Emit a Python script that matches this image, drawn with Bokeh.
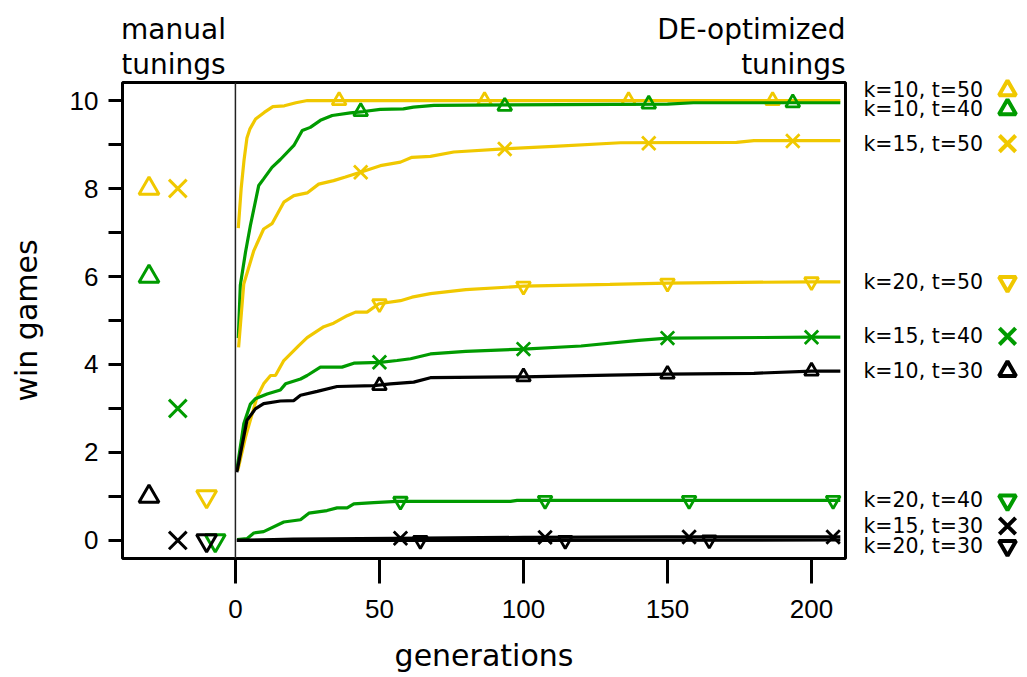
from bokeh.plotting import figure
from bokeh.models import Range1d, FixedTicker, Span, ColumnDataSource
from bokeh.layouts import row, column
from bokeh.core.properties import value
from bokeh.embed import file_html
from bokeh.resources import INLINE

YELLOW = "#F0C800"
GREEN = "#009B00"
BLACK = "#000000"

# ---------------- data ----------------
# DE-optimized tuning curves: win games per generation
k10t50_g = [1, 2, 3, 4, 5, 7, 10, 13, 17, 21, 25, 30, 210]
k10t50_v = [7.1, 8.0, 8.65, 9.15, 9.35, 9.58, 9.73, 9.86, 9.88, 9.95, 10.0, 10.0, 10.0]

k10t40_g = [1, 1.7, 3.5, 5.2, 8.1, 9.8, 12.7, 15.6, 20.3, 23.2, 26, 29.5, 33.6, 39.9, 44.5,
            50.3, 58.3, 61.8, 68.9, 150, 159, 210]
k10t40_v = [4.6, 5.8, 6.55, 7.16, 8.07, 8.22, 8.48, 8.66, 8.98, 9.32, 9.39, 9.55, 9.66, 9.72, 9.75,
            9.8, 9.81, 9.85, 9.89, 9.92, 9.95, 9.95]

k15t50_g = [1.1, 2.9, 6.4, 9.8, 12.7, 16.8, 20.3, 24.9, 28.9, 34.1, 38.2, 43.4, 50.3, 57.3, 61.3,
            67.7, 75.8, 93.2, 110.5, 133.7, 174, 180, 210]
k15t50_v = [4.39, 5.83, 6.59, 7.08, 7.2, 7.69, 7.84, 7.9, 8.1, 8.18, 8.26, 8.37, 8.52, 8.6, 8.71,
            8.73, 8.83, 8.9, 8.96, 9.04, 9.05, 9.09, 9.09]

k20t50_g = [0.8, 3.5, 7.5, 9.8, 12.2, 13.9, 16.8, 22, 24.9, 30.7, 34.1, 38.8, 41.7, 45.7, 49.8,
            57.3, 61.3, 67.7, 80, 100, 130, 150, 200, 210]
k20t50_v = [1.59, 2.35, 3.26, 3.56, 3.75, 3.75, 4.09, 4.43, 4.61, 4.86, 4.94, 5.11, 5.19, 5.19, 5.38,
            5.45, 5.53, 5.61, 5.7, 5.78, 5.82, 5.85, 5.88, 5.88]

k15t40_g = [0.5, 2.9, 5.2, 6.9, 11, 15.6, 17.4, 22.6, 24.9, 29.5, 37, 41.1, 50.3, 56.1, 60.8,
            67.7, 80, 100, 120, 140, 150, 200, 210]
k15t40_v = [1.6, 2.65, 3.1, 3.22, 3.33, 3.42, 3.56, 3.67, 3.75, 3.94, 3.94, 4.03, 4.05, 4.09, 4.13,
            4.24, 4.3, 4.35, 4.42, 4.55, 4.6, 4.62, 4.62]

k10t30_g = [0.5, 4, 6.9, 9.8, 15.6, 20.3, 22.6, 28.4, 35.3, 48, 53.8, 61.9, 67.7, 100, 130, 150,
            180, 200, 210]
k10t30_v = [1.55, 2.73, 2.99, 3.11, 3.17, 3.18, 3.3, 3.39, 3.5, 3.52, 3.56, 3.6, 3.7, 3.72, 3.76,
            3.78, 3.8, 3.85, 3.85]

k20t40_g = [0.6, 4, 6.4, 9.8, 16.8, 22.6, 25.5, 31.8, 35.3, 38.8, 41.1, 48, 56.1, 95.5, 97.8, 210]
k20t40_v = [0.02, 0.04, 0.17, 0.2, 0.42, 0.47, 0.62, 0.68, 0.74, 0.74, 0.83, 0.86, 0.89, 0.89,
            0.91, 0.91]

k15t30_g = [0.5, 20, 55, 100, 150, 210]
k15t30_v = [0.0, 0.03, 0.05, 0.07, 0.08, 0.08]

k20t30_g = [0.5, 100, 210]
k20t30_v = [0.0, 0.0, 0.01]

# markers placed along the curves
k10t50_mg = [36, 86.5, 136.5, 186.5]
k10t50_mv = [10.0, 10.0, 10.0, 10.0]
k10t40_mg = [43.5, 93.5, 143.5, 193.5]
k10t40_mv = [9.75, 9.87, 9.92, 9.95]
k15t50_mg = [43.5, 93.5, 143.5, 193.5]
k15t50_mv = [8.37, 8.9, 9.03, 9.08]
k20t50_mg = [50, 100, 150, 200]
k20t50_mv = [5.38, 5.78, 5.85, 5.88]
k15t40_mg = [50, 100, 150, 200]
k15t40_mv = [4.05, 4.35, 4.6, 4.62]
k10t30_mg = [50, 100, 150, 200]
k10t30_mv = [3.52, 3.72, 3.78, 3.85]
k20t40_mg = [57.3, 107.5, 157.5, 207.5]
k20t40_mv = [0.89, 0.91, 0.91, 0.91]
k15t30_mg = [57.3, 107.5, 157.5, 207.5]
k15t30_mv = [0.05, 0.07, 0.08, 0.08]
k20t30_mg = [64.2, 114.5, 164.5]
k20t30_mv = [0.0, 0.0, 0.01]

# manual tunings (left panel)
manual_x = [-30, -30, -20, -10, -20, -30, -7, -20, -10]
manual_y = [8, 6, 8, 1, 3, 1, 0, 0, 0]

# legend (right side)
legend_labels = ["k=10, t=50", "k=10, t=40", "k=15, t=50", "k=20, t=50", "k=15, t=40",
                 "k=10, t=30", "k=20, t=40", "k=15, t=30", "k=20, t=30"]
legend_y = [10.23, 9.80, 9.02, 5.875, 4.64, 3.85, 0.91, 0.33, -0.125]
series_colors = [YELLOW, GREEN, YELLOW, YELLOW, GREEN, BLACK, GREEN, BLACK, BLACK]
series_markers = ["triangle", "triangle", "x", "inverted_triangle", "x", "triangle",
                  "inverted_triangle", "x", "inverted_triangle"]

x_ticks = [0, 50, 100, 150, 200]
y_ticks = list(range(0, 11))
X_LO, X_HI = -39.2, 211.8
Y_LO, Y_HI = -0.41, 10.41

curves = [
    (k10t50_g, k10t50_v, k10t50_mg, k10t50_mv),
    (k10t40_g, k10t40_v, k10t40_mg, k10t40_mv),
    (k15t50_g, k15t50_v, k15t50_mg, k15t50_mv),
    (k20t50_g, k20t50_v, k20t50_mg, k20t50_mv),
    (k15t40_g, k15t40_v, k15t40_mg, k15t40_mv),
    (k10t30_g, k10t30_v, k10t30_mg, k10t30_mv),
    (k20t40_g, k20t40_v, k20t40_mg, k20t40_mv),
    (k15t30_g, k15t30_v, k15t30_mg, k15t30_mv),
    (k20t30_g, k20t30_v, k20t30_mg, k20t30_mv),
]

FONT = "DejaVu Sans"
TICKFONT = "Liberation Sans"

def marker_size(m, tri, xs):
    return xs if m == "x" else tri

# ---------------- main plot ----------------
TOP_H = 80
p = figure(width=848, height=597, x_range=Range1d(X_LO, X_HI), y_range=Range1d(Y_LO, Y_HI),
           output_backend="svg", toolbar_location=None,
           min_border_left=122, min_border_right=3, min_border_top=2, min_border_bottom=119)
p.xgrid.visible = False
p.ygrid.visible = False
p.outline_line_color = "black"
p.outline_line_width = 3
p.background_fill_color = "white"
p.border_fill_color = "white"

p.xaxis.ticker = FixedTicker(ticks=x_ticks)
p.yaxis.ticker = FixedTicker(ticks=y_ticks)
p.yaxis.major_label_overrides = {t: ("" if t % 2 else str(t)) for t in y_ticks}
for ax in (p.xaxis, p.yaxis):
    ax.axis_line_color = None
    ax.major_tick_in = 0
    ax.minor_tick_line_color = None
    ax.major_tick_line_width = 3
    ax.major_tick_line_color = "black"
    ax.major_label_text_font = TICKFONT
    ax.major_label_text_font_size = "26px"
    ax.major_label_text_color = "black"
    ax.axis_label_text_font = FONT
    ax.axis_label_text_font_size = "30px"
    ax.axis_label_text_font_style = "normal"
    ax.axis_label_text_color = "black"
p.xaxis.major_tick_out = 25
p.xaxis.major_label_standoff = 16
p.xaxis.axis_label = "generations"
p.xaxis.axis_label_standoff = 17
p.yaxis.major_tick_out = 14
p.yaxis.major_label_standoff = 10
p.yaxis.axis_label = "win games"
p.yaxis.axis_label_standoff = 23

p.add_layout(Span(location=0, dimension="height", line_color="#222222", line_width=1.5))

for (g, v, mg, mv), col, mk in zip(curves, series_colors, series_markers):
    p.line(g, v, line_color=col, line_width=3.2)
    p.scatter(mg, mv, marker=mk, size=marker_size(mk, 14, 19), fill_color=None,
              line_color=col, line_width=2.8)

msrc = ColumnDataSource(dict(x=manual_x, y=manual_y, c=series_colors, m=series_markers,
                             s=[marker_size(m, 20, 25) for m in series_markers]))
p.scatter("x", "y", source=msrc, marker="m", size="s", fill_color=None,
          line_color="c", line_width=3)

# ---------------- top captions ----------------
ptop = figure(width=848, height=TOP_H, x_range=p.x_range, y_range=Range1d(TOP_H, 0),
              output_backend="svg", toolbar_location=None, x_axis_type=None, y_axis_type=None,
              min_border_left=122, min_border_right=3, min_border_top=0, min_border_bottom=0)
ptop.outline_line_color = None
ptop.xgrid.visible = False
ptop.ygrid.visible = False
ptop.text(x=[-21.5, -21.5], y=[29, 64], text=["manual", "tunings"], text_align="center",
          text_baseline="alphabetic", text_font=value(FONT), text_font_size="28px",
          text_color="black")
ptop.text(x=[X_HI, X_HI], y=[29, 64], text=["DE-optimized", "tunings"], text_align="right",
          text_baseline="alphabetic", text_font=value(FONT), text_font_size="28px",
          text_color="black")

# ---------------- right legend ----------------
frame_top, frame_bot, total_h = 82, 558, 677
scale = (frame_bot - frame_top) / (Y_HI - Y_LO)
r_hi = Y_HI + frame_top / scale
r_lo = Y_LO - (total_h - frame_bot) / scale
pr = figure(width=179, height=total_h, x_range=Range1d(848, 1027), y_range=Range1d(r_lo, r_hi),
            output_backend="svg", toolbar_location=None, x_axis_type=None, y_axis_type=None,
            min_border_left=0, min_border_right=0, min_border_top=0, min_border_bottom=0)
pr.outline_line_color = None
pr.xgrid.visible = False
pr.ygrid.visible = False
lsrc = ColumnDataSource(dict(tx=[863] * len(legend_labels), mx=[1007] * len(legend_labels),
                             y=legend_y, t=legend_labels, c=series_colors, m=series_markers,
                             s=[marker_size(m, 17, 23) for m in series_markers]))
pr.text("tx", "y", text="t", source=lsrc, text_align="left", text_baseline="middle",
        text_font=value(FONT), text_font_size="20.5px", text_color="black")
pr.scatter("mx", "y", source=lsrc, marker="m", size="s", fill_color=None,
           line_color="c", line_width=4)

layout = row(column(ptop, p), pr)
open("out.html", "w").write(file_html(layout, INLINE))
